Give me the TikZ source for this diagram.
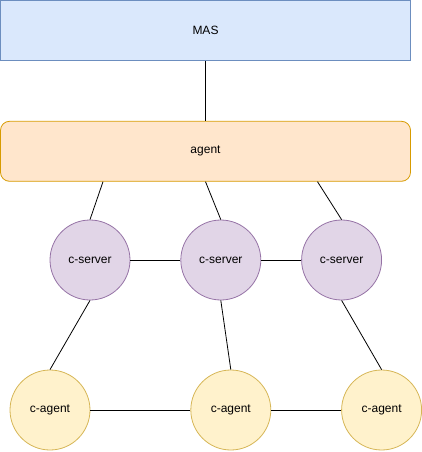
\documentclass[tikz,border=0pt]{standalone}
\usepackage{fontspec}
\setmainfont{Liberation Sans}
\usetikzlibrary{positioning}
\definecolor{masfill}{HTML}{DAE8FC}
\definecolor{masline}{HTML}{6C8EBF}
\definecolor{agentfill}{HTML}{FFE6CC}
\definecolor{agentline}{HTML}{D79B00}
\definecolor{srvfill}{HTML}{E1D5E7}
\definecolor{srvline}{HTML}{9673A6}
\definecolor{cagfill}{HTML}{FFF2CC}
\definecolor{cagline}{HTML}{D6B656}

\begin{document}
\begin{tikzpicture}[
		x=1pt, y=-1pt,
		node distance=60pt,
		font=\fontsize{12}{14}\selectfont,
		% Styles
		layer/.style={rectangle, draw, line width=0.8pt, minimum width=410pt, minimum height=60pt, inner sep=0pt},
		mas/.style={layer, draw=masline, fill=masfill},
		agentbox/.style={layer, draw=agentline, fill=agentfill, rounded corners=9pt},
		server/.style={circle, draw=srvline, fill=srvfill, line width=0.8pt, minimum size=80pt, inner sep=0pt},
		cagent/.style={circle, draw=cagline, fill=cagfill, line width=0.8pt, minimum size=80pt, inner sep=0pt},
		link/.style={draw=black, line width=0.8pt}
	]
	\useasboundingbox (0,0) rectangle (421,452);

	% --- Top layers ---
	\node[mas] (mas) at (205.5,30.5) {MAS};
	\node[agentbox] (agent) [below=of mas] {agent};

	% --- c-servers ---
	\node[server] (srv1) at (90,260) {c-server};
	\node[server] (srv2) [right=50pt of srv1] {c-server};
	\node[server] (srv3) [right=40pt of srv2] {c-server};

	% --- c-agents ---
	\node[cagent] (cag1) at (50,410) {c-agent};
	\node[cagent] (cag2) [right=100pt of cag1] {c-agent};
	\node[cagent] (cag3) [right=70pt of cag2] {c-agent};

	% --- LINKS ---
	\draw[link] (mas) -- (agent);
	\draw[link] ([xshift=-102.5pt]agent.south) -- (srv1.north);
	\draw[link] (agent.south) -- (srv2.north);
	\draw[link] ([xshift=112pt]agent.south) -- (srv3.north);

	\draw[link] (srv1) -- (srv2);
	\draw[link] (srv2) -- (srv3);

	\draw[link] (srv1.south) -- (cag1.north);
	\draw[link] (srv2.south) -- (cag2.north);
	\draw[link] (srv3.south) -- (cag3.north);

	\draw[link] (cag1) -- (cag2);
	\draw[link] (cag2) -- (cag3);

\end{tikzpicture}
\end{document}
